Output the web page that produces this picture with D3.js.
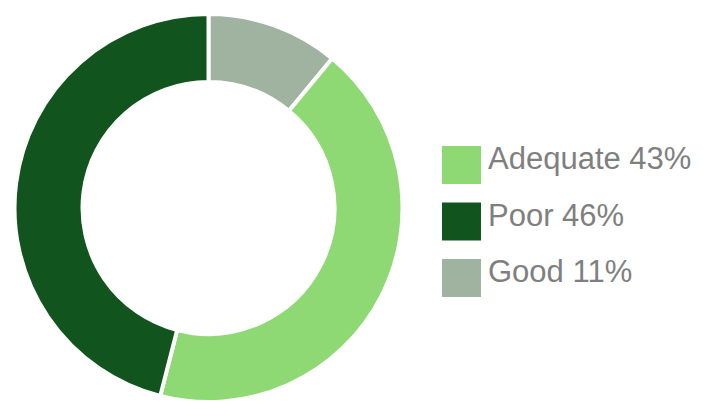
<!DOCTYPE html>
<html><head><meta charset="utf-8">
<script src="https://cdn.jsdelivr.net/npm/d3@7"></script>
<style>body{margin:0;background:#fff;}svg{display:block;}</style>
</head><body>
<svg id="c" width="703" height="401"></svg>
<script>
const categories = ["Good", "Adequate", "Poor"];
const values = [11, 43, 46];
const colors = ["#a0b2a0", "#8fd974", "#12541d"];
const legendOrder = ["Adequate", "Poor", "Good"];

const svg = d3.select("#c");
const cx = 208.5, cy = 208, rOuter = 194, rInner = 126;
const data = categories.map((c, i) => ({cat: c, value: values[i], color: colors[i]}));
const pie = d3.pie().value(d => d.value).sort(null);
const arc = d3.arc().innerRadius(rInner).outerRadius(rOuter);
svg.append("g").attr("transform", `translate(${cx},${cy})`)
  .selectAll("path").data(pie(data)).join("path")
  .attr("d", arc).attr("fill", d => d.data.color)
  .attr("stroke", "#fff").attr("stroke-width", 4).attr("stroke-linejoin", "miter");

const ly = d3.scalePoint().domain(legendOrder).range([146, 259]);
const lg = svg.append("g");
legendOrder.forEach(name => {
  const d = data.find(x => x.cat === name);
  const y = ly(name);
  lg.append("rect").attr("x", 442).attr("y", y).attr("width", 39).attr("height", 38).attr("fill", d.color);
  lg.append("text").attr("x", 488).attr("y", y + 23)
    .attr("font-family", "Liberation Sans, Arial, sans-serif").attr("font-size", 31)
    .attr("fill", "#7f7f7f").text(`${name} ${d.value}%`);
});
</script>
</body></html>
